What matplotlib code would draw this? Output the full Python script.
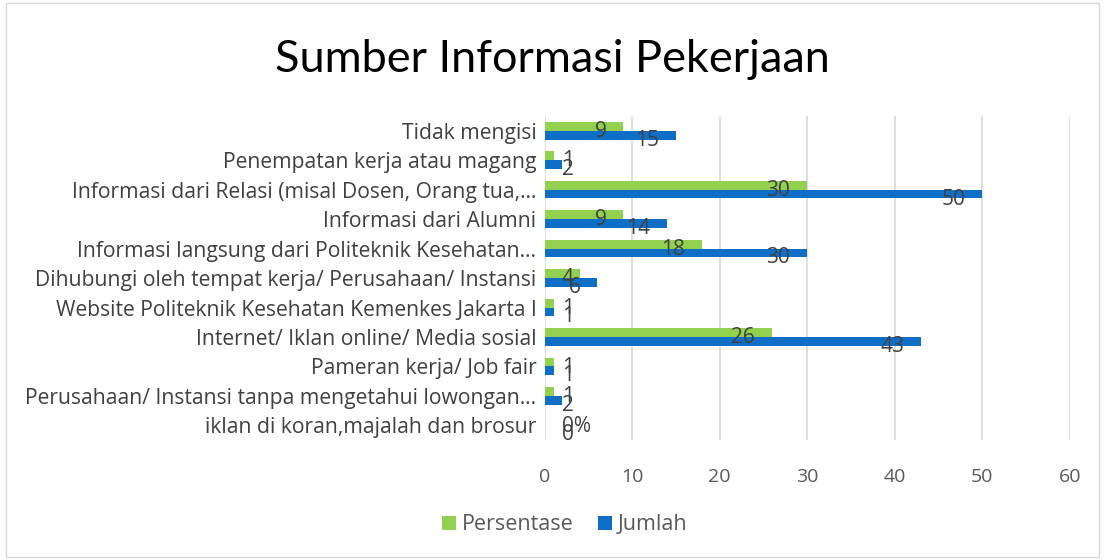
import numpy as np
import matplotlib.pyplot as plt

plt.rcParams['font.family'] = ['Open Sans', 'DejaVu Sans']

kategori = [
    'Tidak mengisi',
    'Penempatan kerja atau magang',
    'Informasi dari Relasi (misal Dosen, Orang tua,…',
    'Informasi dari Alumni',
    'Informasi langsung dari Politeknik Kesehatan…',
    'Dihubungi oleh tempat kerja/ Perusahaan/ Instansi',
    'Website Politeknik Kesehatan Kemenkes Jakarta I',
    'Internet/ Iklan online/ Media sosial',
    'Pameran kerja/ Job fair',
    'Perusahaan/ Instansi tanpa mengetahui lowongan…',
    'iklan di koran,majalah dan brosur',
]
persentase = [9, 1, 30, 9, 18, 4, 1, 26, 1, 1, 0]
label_persen = ['9', '1', '30', '9', '18', '4', '1', '26', '1', '1', '0%']
jumlah = [15, 2, 50, 14, 30, 6, 1, 43, 1, 2, 0]
label_jumlah = [str(v) for v in jumlah]

hijau = '#92D050'
biru = '#0F6FC6'
teks = '#404040'

fig = plt.figure(figsize=(11.05, 5.6), dpi=100)
ax = fig.add_axes([0.493, 0.214, 0.475, 0.579])

y = np.arange(len(kategori))
h = 0.3
ax.barh(y - h / 2, persentase, height=h, color=hijau, label='Persentase', zorder=3)
ax.barh(y + h / 2, jumlah, height=h, color=biru, label='Jumlah', zorder=3)

ax.set_ylim(len(kategori) - 0.5, -0.5)
ax.set_xlim(0, 60)
ax.set_xticks(np.arange(0, 61, 10))
ax.set_yticks(y)
ax.set_yticklabels(kategori, fontsize=15.2, color=teks)
ax.tick_params(axis='both', length=0)
ax.tick_params(axis='x', labelsize=14, labelcolor='#595959', pad=20)
ax.tick_params(axis='y', pad=6)
ax.grid(axis='x', color='#D9D9D9', linewidth=1.2, zorder=0)
for s in ax.spines.values():
    s.set_visible(False)

# data labels: inside end, but pushed right when the bar is too short
fig.canvas.draw()
r = fig.canvas.get_renderer()
x0 = ax.transData.transform((0, 0))[0]
for vals, labs, dy in [(persentase, label_persen, -h / 2), (jumlah, label_jumlah, h / 2)]:
    for i in range(len(kategori)):
        t = ax.annotate(labs[i], xy=(vals[i], y[i] + dy), xytext=(-17, -5),
                        textcoords='offset pixels', ha='right', va='center',
                        fontsize=15, color=teks, zorder=4)
        left = t.get_window_extent(r).x0
        if left < x0 + 17:
            t.set_position((17, -5))
            t.xy = (0, y[i] + dy)
            t.set_ha('left')

fig.text(0.5, 1 - 60 / 560, 'Sumber Informasi Pekerjaan', fontsize=32.5, ha='center', va='center',
         color='black', family=['Lato', 'DejaVu Sans'])
fig.legend(loc='center', ncol=2, frameon=False, fontsize=15.5, bbox_to_anchor=(0.511, 0.0625),
           handlelength=0.65, handleheight=0.65, columnspacing=1.1, handletextpad=0.3,
           labelcolor='#595959')

fig.patches.append(plt.Rectangle((0.005, 0.005), 0.99, 0.99, transform=fig.transFigure,
                                 fill=False, edgecolor='#D9D9D9', linewidth=1))

fig.savefig('out.png', dpi=100)
